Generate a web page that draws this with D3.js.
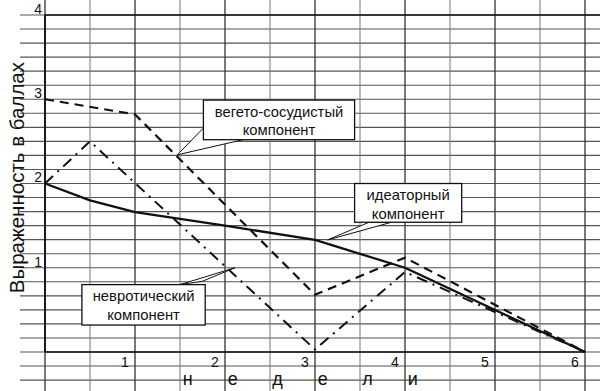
<html>
<head>
    <style>
        body { margin: 0; background: #fff; }
        svg { display: block; font-family: "Liberation Sans", Arial, Helvetica, sans-serif; }
    </style>
    <script src="https://cdn.jsdelivr.net/npm/d3@7"></script>
</head>
<body>
    <svg id="chart"></svg>
<script>
// weeks on x, score on y
let vegetoWeeks = [0, 1, 3, 4, 6]
let vegetoScores = [3.0, 2.82, 0.68, 1.12, 0]

let nevroWeeks = [0, 0.5, 3, 4, 6]
let nevroScores = [2.0, 2.5, 0.03, 0.95, 0]

let ideaWeeks = [0, 0.5, 1, 1.5, 2, 3, 4, 6]
let ideaScores = [2.0, 1.8, 1.66, 1.58, 1.5, 1.33, 1.0, 0]

let xTicks = [1, 2, 3, 4, 5, 6]
let yTicks = [1, 2, 3, 4]
let yTitle = "Выраженность в баллах"
let xTitle = "недели"

// callout labels: box corners and pointer tip, in data units
let labelLines = [["вегето-сосудистый", "компонент"], ["идеаторный", "компонент"], ["невротический", "компонент"]]
let labelBoxes = [[1.76, 2.99, 3.44, 2.52], [3.44, 2.0, 4.63, 1.54], [0.41, 0.8, 1.78, 0.32]]
let labelTips = [[1.47, 2.34], [3.14, 1.33], [2.11, 1.0]]
let labelBases = [[[1.78, 2.68], [2.2, 2.52]], [[3.6, 1.54], [3.85, 1.54]], [[1.5, 0.8], [1.75, 0.84]]]

function configuration() {
    let width = 600
    let height = 391
    let margin = { top: 15, bottom: 39, left: 45, right: 15 }
    let bodyWidth = width - margin.left - margin.right
    let bodyHeight = height - margin.top - margin.bottom
    let container = d3.select("#chart").attr("width", width).attr("height", height)
    return { width, height, margin, bodyWidth, bodyHeight, container }
}

function scales(config) {
    let { margin, bodyWidth, bodyHeight } = config
    let xScale = d3.scaleLinear().domain([0, 6]).range([margin.left, margin.left + bodyWidth])
    let yScale = d3.scaleLinear().domain([0, 4]).range([margin.top + bodyHeight, margin.top])
    return { xScale, yScale }
}

function grid(config, sc) {
    let { container, width, height } = config
    let { xScale, yScale } = sc
    let g = container.append("g")
    let hv = d3.range(-2, 25).map(i => i / 6)
    g.selectAll(".h").data(hv).enter().append("line")
        .attr("x1", 20).attr("x2", width)
        .attr("y1", d => yScale(d)).attr("y2", d => yScale(d))
        .attr("stroke", "#555").attr("stroke-width", 1.1)
    let vv = d3.range(0, 13).map(i => i / 2)
    g.selectAll(".v").data(vv).enter().append("line")
        .attr("x1", d => xScale(d)).attr("x2", d => xScale(d))
        .attr("y1", 0).attr("y2", height)
        .attr("stroke", d => d % 1 == 0 ? "#333" : "#777")
        .attr("stroke-width", d => d % 1 == 0 ? 1.3 : 1)
    // frame
    g.append("line").attr("x1", xScale(0)).attr("x2", xScale(0)).attr("y1", yScale(4)).attr("y2", yScale(0))
        .attr("stroke", "#111").attr("stroke-width", 1.8)
    g.append("line").attr("x1", xScale(0)).attr("x2", xScale(6)).attr("y1", yScale(0)).attr("y2", yScale(0))
        .attr("stroke", "#111").attr("stroke-width", 1.6)
    g.append("line").attr("x1", xScale(0)).attr("x2", width).attr("y1", yScale(4)).attr("y2", yScale(4))
        .attr("stroke", "#111").attr("stroke-width", 1.6)
}

function series(config, sc) {
    let { container } = config
    let { xScale, yScale } = sc
    let line = d3.line().x(d => xScale(d[0])).y(d => yScale(d[1]))
    container.append("path").datum(d3.zip(ideaWeeks, ideaScores))
        .attr("d", line).attr("fill", "none").attr("stroke", "#111").attr("stroke-width", 2.3)
        .attr("stroke-linejoin", "round")
    container.append("path").datum(d3.zip(vegetoWeeks, vegetoScores))
        .attr("d", line).attr("fill", "none").attr("stroke", "#111").attr("stroke-width", 2.2)
        .attr("stroke-dasharray", "9,6")
    container.append("path").datum(d3.zip(nevroWeeks, nevroScores))
        .attr("d", line).attr("fill", "none").attr("stroke", "#111").attr("stroke-width", 2)
        .attr("stroke-dasharray", "11,6,2,6")
}

function callouts(config, sc) {
    let { container } = config
    let { xScale, yScale } = sc
    labelLines.forEach((lines, i) => {
        let [x0, y0, x1, y1] = labelBoxes[i]
        let tip = labelTips[i]
        let base = labelBases[i]
        let pts = [tip, base[0], base[1]].map(p => [xScale(p[0]), yScale(p[1])])
        container.append("polygon").attr("points", pts.map(p => p.join(",")).join(" "))
            .attr("fill", "#fff").attr("stroke", "#111").attr("stroke-width", 1)
        let bx = xScale(x0), by = yScale(y0), bw = xScale(x1) - xScale(x0), bh = yScale(y1) - yScale(y0)
        container.append("rect").attr("x", bx).attr("y", by).attr("width", bw).attr("height", bh)
            .attr("fill", "#fff").attr("stroke", "#111").attr("stroke-width", 1.3)
        container.append("text").attr("x", bx + bw / 2).attr("y", by + 2)
            .attr("text-anchor", "middle").attr("font-size", 14.8).attr("fill", "#111")
            .selectAll("tspan").data(lines).enter().append("tspan")
            .attr("x", bx + bw / 2).attr("dy", (d, j) => j == 0 ? "1em" : "1.25em").text(d => d)
    })
}

function axes(config, sc) {
    let { container, margin, height } = config
    let { xScale, yScale } = sc
    let ay = container.append("g").attr("transform", `translate(${margin.left},0)`)
        .call(d3.axisLeft(yScale).tickValues(yTicks).tickFormat(d3.format("d")).tickSize(0).tickPadding(3))
    ay.select(".domain").remove()
    ay.selectAll("text").attr("dy", "-0.12em").attr("font-size", 14).attr("fill", "#111")
        .attr("font-family", "Liberation Sans, Arial, sans-serif")

    let ax = container.append("g").attr("transform", `translate(0,${yScale(0)})`)
        .call(d3.axisBottom(xScale).tickValues(xTicks).tickFormat(d3.format("d")).tickSize(0).tickPadding(5))
    ax.select(".domain").remove()
    ax.selectAll("text").attr("dx", "-0.75em").attr("font-size", 14).attr("fill", "#111")
        .attr("font-family", "Liberation Sans, Arial, sans-serif")

    container.append("text").attr("x", xScale(1.53)).attr("y", 385)
        .attr("font-size", 18).attr("letter-spacing", "35px").attr("fill", "#111")
        .text(xTitle)

    container.append("text")
        .attr("transform", `translate(24,${yScale(2.07)}) rotate(-90)`)
        .attr("text-anchor", "middle").attr("font-size", 20.5).attr("fill", "#111")
        .text(yTitle)
}

let config = configuration()
let sc = scales(config)
grid(config, sc)
series(config, sc)
callouts(config, sc)
axes(config, sc)
</script>
</body>
</html>
